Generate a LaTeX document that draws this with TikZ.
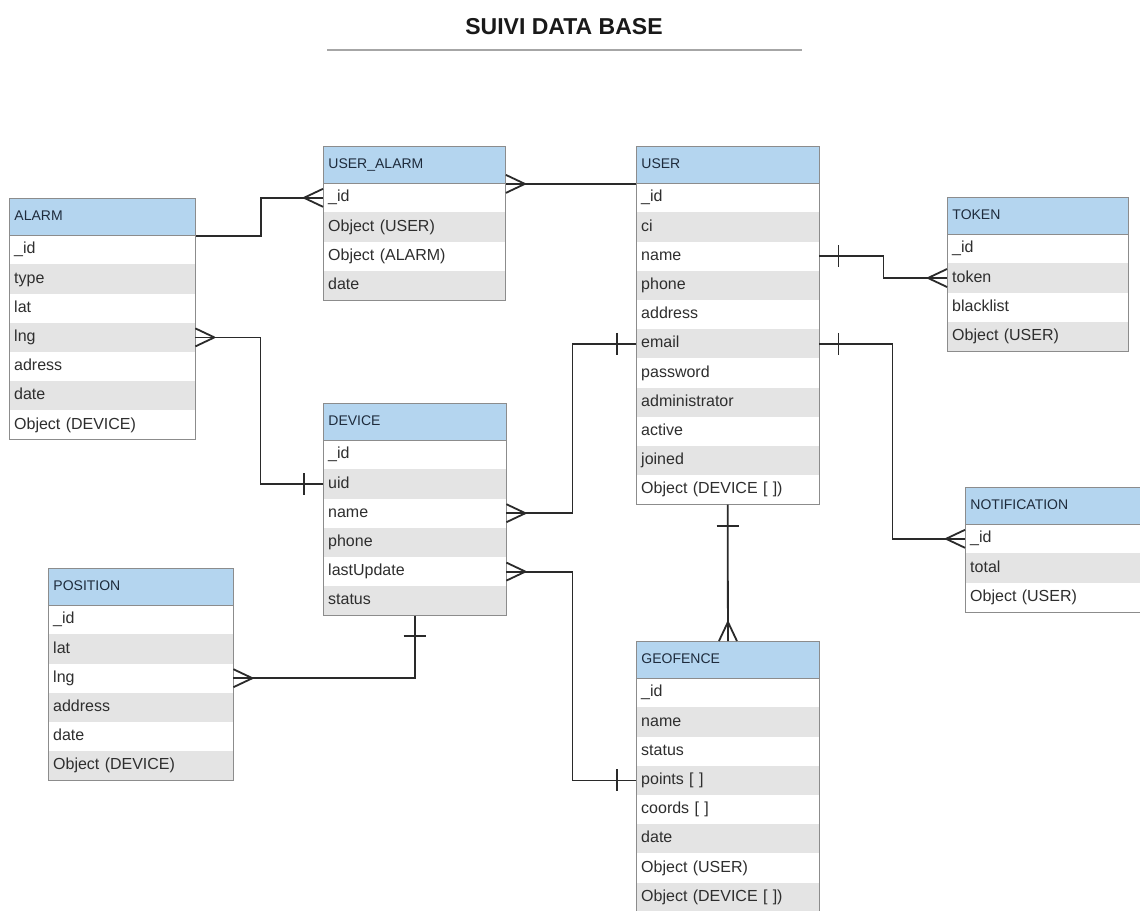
\documentclass[tikz,border=0pt]{standalone}
\usepackage{fontspec}
\setmainfont{Liberation Sans}
\definecolor{hdrblue}{HTML}{B4D5EF}
\definecolor{rowgray}{HTML}{E4E4E4}
\definecolor{tabline}{HTML}{8C8C8C}
\definecolor{conn}{HTML}{2A2A2A}
\definecolor{hdrtext}{HTML}{1E2B3C}
\definecolor{rowtext}{HTML}{2E2E2E}
\tikzset{
  hdr/.style={draw=tabline, line width=0.9pt, fill=hdrblue, anchor=north west, inner xsep=5pt, inner ysep=0pt,
    minimum height=37pt, text=hdrtext, align=left, font=\fontsize{14}{16}\selectfont, text height=10pt, text depth=3pt},
  rowbox/.style={anchor=north west, inner xsep=5pt, inner ysep=0pt, minimum height=29.2pt, text=rowtext,
    align=left, font=\fontsize{16}{18}\selectfont, text height=11.5pt, text depth=3.5pt},
  tabframe/.style={draw=tabline, line width=0.9pt},
  link/.style={draw=conn, line width=1.8pt},
  pics/crowW/.style={code={\draw[link] (-19,0) -- (0,-9) (-19,0) -- (0,9);}},
  pics/crowE/.style={code={\draw[link] (19,0) -- (0,-9) (19,0) -- (0,9);}},
  pics/crowN/.style={code={\draw[link] (0,-19) -- (-9,0) (0,-19) -- (9,0);}},
  pics/tickV/.style={code={\draw[link] (0,-11) -- (0,11);}},
  pics/tickH/.style={code={\draw[link] (-11,0) -- (11,0);}},
}
\newcommand{\ertab}[6]{%
  \node[hdr, text width={#4-10pt}, minimum width=#4] (#1-h) at (#2,#3) {#5};
  \foreach \t [count=\i] in {#6} {
    \ifodd\i \def\rfill{white}\else\def\rfill{rowgray}\fi
    \node[rowbox, fill=\rfill, text width={#4-10pt}, minimum width=#4] (#1-\i) at (#2,{#3+37+(\i-1)*29.2}) {\t};
    \xdef\lastrow{\i}
  }
  \draw[tabframe] (#1-h.north west) rectangle (#1-\lastrow.south east);
  \draw[tabframe] (#1-h.north west) rectangle (#1-h.south east);
}
\begin{document}
\begin{tikzpicture}[x=1pt,y=-1pt]
\useasboundingbox (0,0) rectangle (1140,910);
\fill[white] (0,0) rectangle (1140,910);
% title
\node[font=\fontsize{23}{26}\selectfont\bfseries, text=black!90] (title) at (564,27) {SUIVI DATA BASE};
\coordinate (tl) at (327,50);
\coordinate (tr) at (802,50);
\draw[black!35, line width=1.2pt] (tl) -- (tr);
% tables
\ertab{UA}{323}{146}{182pt}{USER\_ALARM}{\_id,Object (USER),Object (ALARM),date}
\ertab{USER}{636}{146}{183pt}{USER}{\_id,ci,name,phone,address,email,password,administrator,active,joined,Object (DEVICE [ ])}
\ertab{ALARM}{9}{198}{186pt}{ALARM}{\_id,type,lat,lng,adress,date,Object (DEVICE)}
\ertab{TOKEN}{947}{197}{181pt}{TOKEN}{\_id,token,blacklist,Object (USER)}
\ertab{DEV}{323}{403}{183pt}{DEVICE}{\_id,uid,name,phone,lastUpdate,status}
\ertab{NOTIF}{965}{487}{182pt}{NOTIFICATION}{\_id,total,Object (USER)}
\ertab{POS}{48}{568}{185pt}{POSITION}{\_id,lat,lng,address,date,Object (DEVICE)}
\ertab{GEO}{636}{641}{183pt}{GEOFENCE}{\_id,name,status,points [ ],coords [ ],date,Object (USER),Object (DEVICE [ ])}
% connectors
\draw[link] (ALARM-h.south east) -- ++(65,0) |- (UA-1.west);
\pic at (UA-1.west) {crowW};
\draw[link] (UA-h.south east) -- (USER-h.south west);
\pic at (UA-h.south east) {crowE};
\draw[link] (USER-3.east) -- ++(64,0) |- (TOKEN-2.west);
\pic at ([xshift=19pt]USER-3.east) {tickV};
\pic at (TOKEN-2.west) {crowW};
\draw[link] (USER-6.east) -- ++(73,0) |- (NOTIF-1.west);
\pic at ([xshift=19pt]USER-6.east) {tickV};
\pic at (NOTIF-1.west) {crowW};
\draw[link] (ALARM-4.east) -- ++(65,0) |- (DEV-2.west);
\pic at (ALARM-4.east) {crowE};
\pic at ([xshift=-19pt]DEV-2.west) {tickV};
\draw[link] (DEV-3.east) -- ++(66,0) |- (USER-6.west);
\pic at (DEV-3.east) {crowE};
\pic at ([xshift=-19pt]USER-6.west) {tickV};
\draw[link] (DEV-5.east) -- ++(66,0) |- (GEO-4.west);
\pic at (DEV-5.east) {crowE};
\pic at ([xshift=-19pt]GEO-4.west) {tickV};
\draw[link] (USER-11.south) -- (GEO-h.north);
\pic at ([yshift=-21pt]USER-11.south) {tickH};
\pic at (GEO-h.north) {crowN};
\draw[link] (DEV-6.south) |- (POS-3.east);
\pic at ([yshift=-20pt]DEV-6.south) {tickH};
\pic at (POS-3.east) {crowE};
\end{tikzpicture}
\end{document}
